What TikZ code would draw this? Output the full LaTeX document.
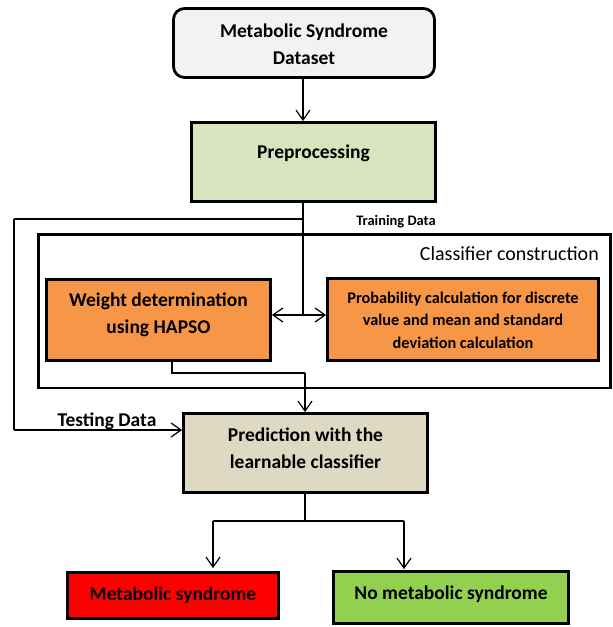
\documentclass[tikz,border=0pt]{standalone}
\usepackage{fontspec}
\setmainfont{Carlito}
\usetikzlibrary{arrows.meta}
\definecolor{dsfill}{HTML}{F2F2F2}
\definecolor{prefill}{HTML}{D7E4BD}
\definecolor{orfill}{HTML}{F79646}
\definecolor{pdfill}{HTML}{DDD9C3}
\definecolor{redfill}{HTML}{FF0000}
\definecolor{grfill}{HTML}{92D050}
\newcommand\shifttext[2]{\raisebox{#1}[\height][\depth]{\begin{tabular}{@{}c@{}}#2\end{tabular}}}
\begin{document}
\begin{tikzpicture}[x=1pt,y=-1pt,
  box/.style={draw=black, line width=2.8pt, align=center, inner sep=0pt,
    font=\fontsize{19.5}{27}\selectfont\bfseries},
  smallbox/.style={box, font=\fontsize{16.3}{22.5}\selectfont\bfseries},
  arr/.style={-{Straight Barb[length=10pt,width=14pt,line width=1.2pt]}, line width=1.2pt},
  thinline/.style={line width=1.2pt},
  mainline/.style={line width=1.6pt},
  lbl/.style={inner sep=0pt, font=\fontsize{19.5}{27}\selectfont\bfseries},
  smalllbl/.style={inner sep=0pt, font=\fontsize{14.5}{17}\selectfont\bfseries}
]
\useasboundingbox (0,0) rectangle (613,627);

% boxes
\node[box, fill=dsfill, rounded corners=11pt, minimum width=261pt, minimum height=69pt] (ds) at (304,43) {\shifttext{-3pt}{Metabolic Syndrome\\Dataset}};
\node[box, fill=prefill, minimum width=244pt, minimum height=79pt] (pre) at (313.5,162) {\shifttext{9pt}{Preprocessing}};
\node[draw=black, line width=2.5pt, minimum width=572pt, minimum height=153.5pt, inner sep=0pt] (cc) at (324.5,311) {};
\node[lbl, anchor=east, font=\fontsize{20}{24}\selectfont] (cctext) at (599,254) {Classifier construction};
\node[box, fill=orfill, minimum width=224pt, minimum height=81pt] (wt) at (158.5,320) {\shifttext{5pt}{Weight determination\\using HAPSO}};
\node[smallbox, fill=orfill, minimum width=271pt, minimum height=82pt] (pr) at (463,319.5) {\shifttext{-1.5pt}{Probability calculation for discrete\\value and mean and standard\\deviation calculation}};
\node[box, fill=pdfill, minimum width=244pt, minimum height=79pt] (pd) at (305.5,453) {\shifttext{3pt}{Prediction with the\\learnable classifier}};
\node[box, fill=redfill, minimum width=211pt, minimum height=46pt] (ms) at (173,595.5) {\shifttext{0pt}{Metabolic syndrome}};
\node[box, fill=grfill, minimum width=235pt, minimum height=52pt] (nm) at (451,597.5) {\shifttext{3pt}{No metabolic syndrome}};

% labels
\node[smalllbl] (train) at (396,222) {Training Data};
\node[lbl] (test) at (107,421) {Testing Data};

% coordinates
\coordinate (split) at (303,219);
\coordinate (lc) at (14,219);
\coordinate (lb) at (14,430);
\coordinate (jn) at (303,315);
\coordinate (w1) at (172,373);
\coordinate (w2) at (305,373);
\coordinate (p1) at (305,521);
\coordinate (b1) at (213,521);
\coordinate (b2) at (404,521);

% connectors
\draw[arr] (303,0 |- ds.south) -- (303,0 |- pre.north);
\draw[mainline] (303,0 |- pre.south) -- (split) -- (jn);
\draw[mainline] (split) -- (lc);
\draw[thinline] (lc) -- (lb);
\draw[arr] (lb) -- (pd.west |- lb);
\draw[arr] (jn) -- (wt.east |- jn);
\draw[arr] (jn) -- (pr.west |- jn);
\draw[thinline] (172,0 |- wt.south) -- (w1) -- (w2);
\draw[arr] (w2) -- (305,0 |- pd.north);
\draw[thinline] (305,0 |- pd.south) -- (p1);
\draw[thinline] (b1) -- (b2);
\draw[arr, shorten >=3pt] (b1) -- (213,0 |- ms.north);
\draw[arr, shorten >=1pt] (b2) -- (404,0 |- nm.north);
\end{tikzpicture}
\end{document}
